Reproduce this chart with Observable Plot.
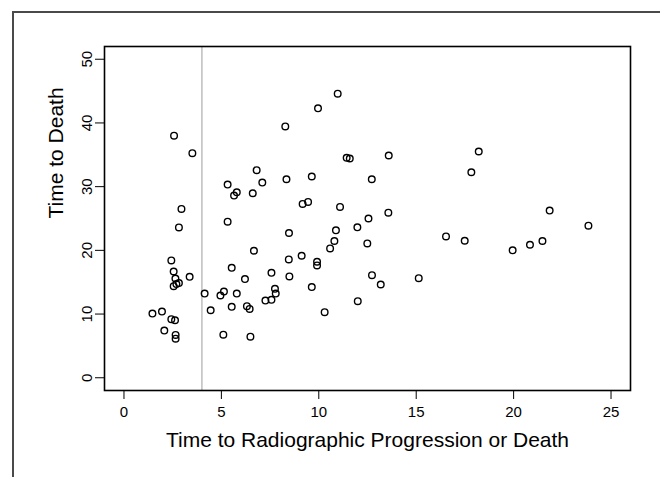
<!DOCTYPE html>
<html>
<head>
<meta charset="utf-8">
<script src="https://cdn.jsdelivr.net/npm/d3@7"></script>
<script src="https://cdn.jsdelivr.net/npm/@observablehq/plot@0.6"></script>
<style>
  html, body { margin: 0; padding: 0; background: white; overflow: hidden; }
  #wrap { position: relative; width: 660px; height: 477px; }
  #wrap svg { display: block; position: absolute; left: 0; top: 0; }
  #outer { position: absolute; left: 12px; top: 11px; width: 720px; height: 520px;
           border: 2px solid #4a4a4a; box-sizing: border-box; pointer-events: none; }
</style>
</head>
<body>
<div id="wrap"><div id="outer"></div></div>
<script>
// Time to radiographic progression or death (x) vs time to death (y)
const progressionTime = [
  2.57, 3.51, 2.95, 2.82, 2.43, 2.55, 2.64, 3.37, 2.55, 2.69, 2.82, 1.46, 1.95, 2.43, 2.62, 2.07, 2.65, 2.65,
  4.14, 4.45, 4.95, 5.13, 5.10, 5.32, 5.32, 5.53, 5.53, 5.65, 5.79, 5.79, 6.21, 6.31, 6.45, 6.49, 6.61, 6.67,
  6.81, 7.10, 7.26, 7.57, 7.57, 7.75, 7.79, 8.28, 8.34, 8.46, 8.47, 8.49, 9.12, 9.17, 9.45, 9.64, 9.64, 9.91,
  9.91, 9.96, 10.30, 10.58, 10.80, 10.88, 10.97, 11.09, 11.43, 11.59, 11.98, 12.00, 12.49, 12.55, 12.72, 12.73,
  13.18, 13.57, 13.59, 15.13, 16.53, 17.49, 17.83, 18.21, 19.95, 20.84, 21.48, 21.85, 23.84
];
const deathTime = [
  38.0, 35.25, 26.5, 23.6, 18.42, 16.68, 15.58, 15.85, 14.38, 14.7, 14.86, 10.08, 10.39, 9.19, 9.03, 7.4, 6.72, 6.14,
  13.22, 10.6, 12.91, 13.54, 6.77, 30.33, 24.5, 17.26, 11.13, 28.6, 29.12, 13.22, 15.49, 11.23, 10.81, 6.45, 28.96, 19.94,
  32.58, 30.64, 12.12, 12.23, 16.48, 13.96, 13.22, 39.46, 31.16, 18.57, 22.72, 15.9, 19.15, 27.29, 27.6, 31.59, 14.23, 18.21,
  17.63, 42.29, 10.29, 20.3, 21.47, 23.14, 44.6, 26.82, 34.53, 34.42, 23.61, 12.02, 21.09, 25.0, 31.16, 16.11,
  14.64, 25.92, 34.89, 15.64, 22.19, 21.51, 32.26, 35.52, 20.0, 20.88, 21.47, 26.24, 23.87
];
const xTicks = [0, 5, 10, 15, 20, 25];
const yTicks = [0, 10, 20, 30, 40, 50];
const cutoff = [4];
const xTitle = "Time to Radiographic Progression or Death";
const yTitle = "Time to Death";

const points = progressionTime.map((x, i) => ({x, y: deathTime[i]}));

const chart = Plot.plot({
  width: 660,
  height: 477,
  marginLeft: 104,
  marginRight: 30,
  marginTop: 46,
  marginBottom: 87,
  x: {domain: [-1, 26], label: null},
  y: {domain: [-2, 52], label: null},
  style: {fontFamily: "'Liberation Sans', Arial, Helvetica, sans-serif", fontSize: "15px", background: "transparent", color: "black", overflow: "visible"},
  marks: [
    Plot.ruleX(cutoff, {stroke: "#bebebe", strokeWidth: 1.5}),
    Plot.dot(points, {x: "x", y: "y", r: 3.3, stroke: "black", strokeWidth: 1.4, fill: "none"}),
    Plot.frame({stroke: "black", strokeWidth: 1.6}),
    Plot.axisX({ticks: xTicks, tickSize: 9, tickPadding: 7, label: null, fontSize: 15}),
    Plot.axisY({ticks: yTicks, tickSize: 9, tickPadding: 4, tickRotate: -90, label: null, fontSize: 15}),
    Plot.text([xTitle], {frameAnchor: "bottom", dy: 56, lineAnchor: "bottom", text: d => d, fontSize: 21}),
    Plot.text([yTitle], {frameAnchor: "left", dx: -42, rotate: -90, lineAnchor: "bottom", text: d => d, fontSize: 21})
  ]
});
document.getElementById("wrap").prepend(chart);
</script>
</body>
</html>
